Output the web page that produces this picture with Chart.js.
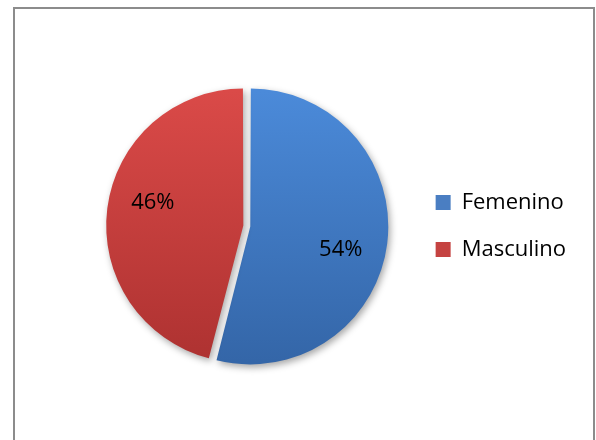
<!DOCTYPE html>
<html>
<head>
<meta charset="utf-8">
<script src="https://cdn.jsdelivr.net/npm/chart.js@4/dist/chart.umd.min.js"></script>
<style>
html,body{margin:0;padding:0;background:#fff;}
#wrap{width:596px;height:440px;position:relative;}
</style>
</head>
<body>
<div id="wrap"><canvas id="c" width="596" height="440"></canvas></div>
<script>
const categories = ["Femenino", "Masculino"];
const values = [54, 46];
const percentLabels = ["54%", "46%"];
const topColors = ["#4B8AD9", "#DA4A48"];
const bottomColors = ["#3466A8", "#AE3231"];
const legendColors = ["#4A7EC2", "#C54341"];

const R = 134.5;
const FONT = "'Open Sans', sans-serif";

function sliceFill(ctx) {
  const chart = ctx.chart;
  const area = chart.chartArea;
  const i = ctx.dataIndex;
  if (!area) return topColors[i];
  const cy = (area.top + area.bottom) / 2;
  const g = chart.ctx.createLinearGradient(0, cy - R, 0, cy + R);
  g.addColorStop(0, topColors[i]);
  g.addColorStop(1, bottomColors[i]);
  return g;
}

const framePlugin = {
  id: 'frame',
  beforeDraw(chart) {
    const c = chart.ctx;
    c.save();
    c.fillStyle = '#fff';
    c.fillRect(0, 0, chart.width, chart.height);
    c.strokeStyle = '#8c8c8c';
    c.lineWidth = 2;
    c.strokeRect(14, 8, 580, 460);
    c.restore();
  }
};

const shadowPlugin = {
  id: 'shadow',
  beforeDatasetsDraw(chart) {
    const c = chart.ctx;
    c.save();
    c.shadowColor = 'rgba(0,0,0,0.35)';
    c.shadowBlur = 7;
    c.shadowOffsetX = 2;
    c.shadowOffsetY = 3;
  },
  afterDatasetsDraw(chart) {
    chart.ctx.restore();
  }
};

const labelPlugin = {
  id: 'pctLabels',
  afterDatasetsDraw(chart) {
    const c = chart.ctx;
    const meta = chart.getDatasetMeta(0);
    c.save();
    c.fillStyle = '#000';
    c.font = "22px " + FONT;
    c.textAlign = 'center';
    c.textBaseline = 'middle';
    meta.data.forEach((arc, i) => {
      const p = arc.getProps(['x', 'y', 'startAngle', 'endAngle', 'outerRadius']);
      const mid = (p.startAngle + p.endAngle) / 2 + 0.12;
      const r = p.outerRadius * 0.72;
      c.fillText(percentLabels[i], p.x + Math.cos(mid) * r, p.y + Math.sin(mid) * r);
    });
    c.restore();
  }
};

Chart.defaults.font.family = FONT;

function draw() {
  new Chart(document.getElementById('c'), {
    type: 'pie',
    data: {
      labels: categories,
      datasets: [{
        data: values,
        backgroundColor: sliceFill,
        borderWidth: 0,
        offset: 14,
        radius: R
      }]
    },
    options: {
      responsive: false,
      animation: false,
      devicePixelRatio: 1,
      layout: { padding: { left: 83, right: 20, top: 12, bottom: 0 } },
      plugins: {
        tooltip: { enabled: false },
        legend: {
          position: 'right',
          labels: {
            color: '#000',
            font: { size: 22, family: FONT },
            boxWidth: 15,
            boxHeight: 15,
            padding: 25,
            generateLabels(chart) {
              return categories.map((t, i) => ({
                text: t,
                fillStyle: legendColors[i],
                strokeStyle: '#6a6a6a',
                lineWidth: 0,
                index: i,
                datasetIndex: 0,
                hidden: false
              }));
            }
          }
        }
      }
    },
    plugins: [framePlugin, shadowPlugin, labelPlugin]
  });
}

if (document.fonts && document.fonts.load) {
  document.fonts.load("22px 'Open Sans'").then(draw, draw);
} else {
  draw();
}
</script>
</body>
</html>
